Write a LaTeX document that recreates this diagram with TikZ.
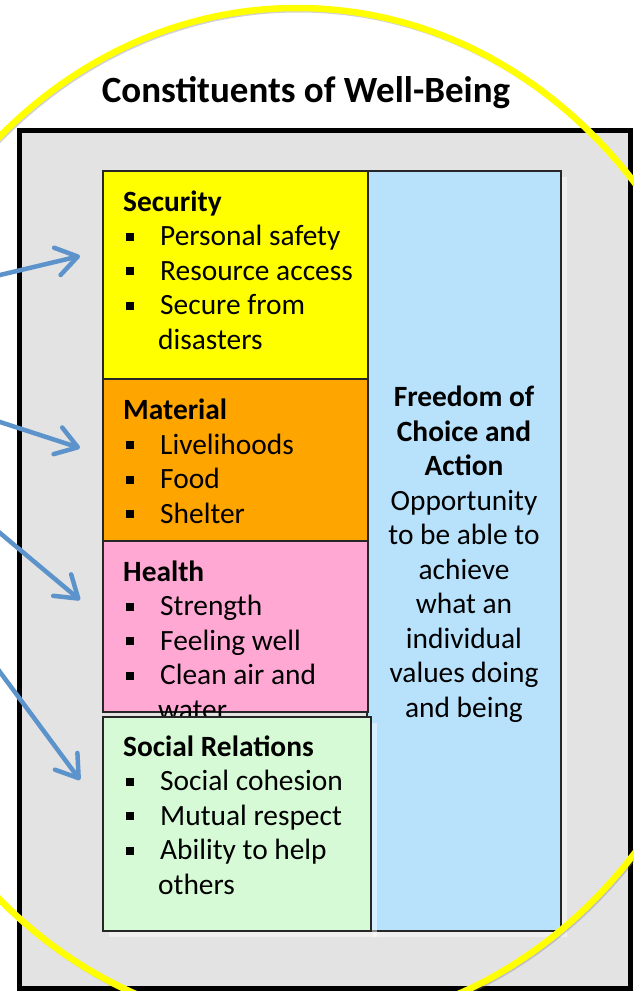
\documentclass[tikz,border=0pt]{standalone}
\usepackage{fontspec}
\setmainfont{Carlito}
\usepackage{xcolor}
\usetikzlibrary{arrows.meta,shadows}
\definecolor{panelgray}{HTML}{E3E3E3}
\definecolor{secyellow}{HTML}{FFFF00}
\definecolor{matorange}{HTML}{FFA500}
\definecolor{healthpink}{HTML}{FFA8D4}
\definecolor{socialgreen}{HTML}{D5FAD5}
\definecolor{freeblue}{HTML}{B8E2FC}
\definecolor{arrowblue}{HTML}{5D93CB}
\definecolor{ringyellow}{HTML}{FFFF00}
% square bullet with hanging indent
\newcommand{\bul}{\makebox[37pt][l]{\hspace*{2.5pt}\rule[5pt]{8pt}{8pt}}}
\newcommand{\cont}{\hspace*{35pt}}
\tikzset{
  panel/.style={draw=black, line width=5pt, fill=panelgray},
  cbox/.style={draw=black!85, line width=1.3pt, rectangle, anchor=north west, inner sep=0pt, outer sep=0pt},
  % anchored at the baseline of the last line
  boxtext/.style={anchor=base west, align=left, inner sep=0pt, font=\fontsize{29.4}{34.5}\selectfont},
  feed/.style={arrowblue, line width=4.5pt, line cap=round, -{Straight Barb[length=21pt,width=28pt,line join=round,line cap=round]}},
  ring/.style={ringyellow, line width=6.5pt},
  softshadow/.style={general shadow={fill=white, opacity=0.45, shadow xshift=6pt, shadow yshift=-6pt}}
}

\begin{document}
\begin{tikzpicture}[x=1pt,y=-1pt]
  \useasboundingbox (0,0) rectangle (634,991);
  \clip (0,0) rectangle (634,991);
  \fill[white] (0,0) rectangle (634,991);

  \draw[panel] (19.5,130.5) rectangle (630.5,988.5);
  \node[anchor=base, inner sep=0pt, font=\fontsize{37}{44}\selectfont\bfseries] (title) at (306,102) {Constituents of Well-Being};

  % the four constituents and the freedom column
  \node[cbox, softshadow, fill=freeblue, minimum width=194pt, minimum height=760pt] (freedom) at (367,171) {};
  \node[cbox, fill=secyellow, minimum width=265pt, minimum height=208pt] (security) at (103,171) {};
  \node[cbox, fill=matorange, minimum width=265pt, minimum height=162pt] (material) at (103,379) {};
  \node[cbox, fill=healthpink, minimum width=265pt, minimum height=170.5pt] (health) at (103,541.5) {};

  \node[boxtext] (securitytext) at (123,349) {\textbf{Security}\\ \bul Personal safety\\ \bul Resource access\\ \bul Secure from\\ \cont disasters};
  \node[boxtext] (materialtext) at (123,523) {\textbf{Material}\\ \bul Livelihoods\\ \bul Food\\ \bul Shelter};
  \node[boxtext] (healthtext) at (123,719) {\textbf{Health}\\ \bul Strength\\ \bul Feeling well\\ \bul Clean air and\\ \cont water};

  \node[cbox, softshadow, fill=socialgreen, minimum width=268pt, minimum height=214pt] (social) at (103,717) {};
  \node[boxtext] (socialtext) at (123,894) {\textbf{Social Relations}\\ \bul Social cohesion\\ \bul Mutual respect\\ \bul Ability to help\\ \cont others};

  \node[boxtext, anchor=base, align=center] (freedomtext) at (464,717) {\textbf{Freedom of}\\ \textbf{Choice and}\\ \textbf{Action}\\ Opportunity\\ to be able to\\ achieve\\ what an\\ individual\\ values doing\\ and being};

  % incoming arrows
  \coordinate (src1) at (-40,284.5);  \coordinate (in1) at (80,256);
  \coordinate (src2) at (-40,409);    \coordinate (in2) at (80,448);
  \coordinate (src3) at (-40,499.5);  \coordinate (in3) at (80,600);
  \coordinate (src4) at (-40,618);    \coordinate (in4) at (80,780);
  \foreach \i in {1,...,4}{
    \draw[feed] (src\i) -- (in\i);
  }

  % yellow ring
  \draw[gray, line width=5pt, opacity=0.35] (298.5,520) ellipse [x radius=448, y radius=510];
  \draw[ring] (297,518) ellipse [x radius=448, y radius=510];
\end{tikzpicture}
\end{document}
